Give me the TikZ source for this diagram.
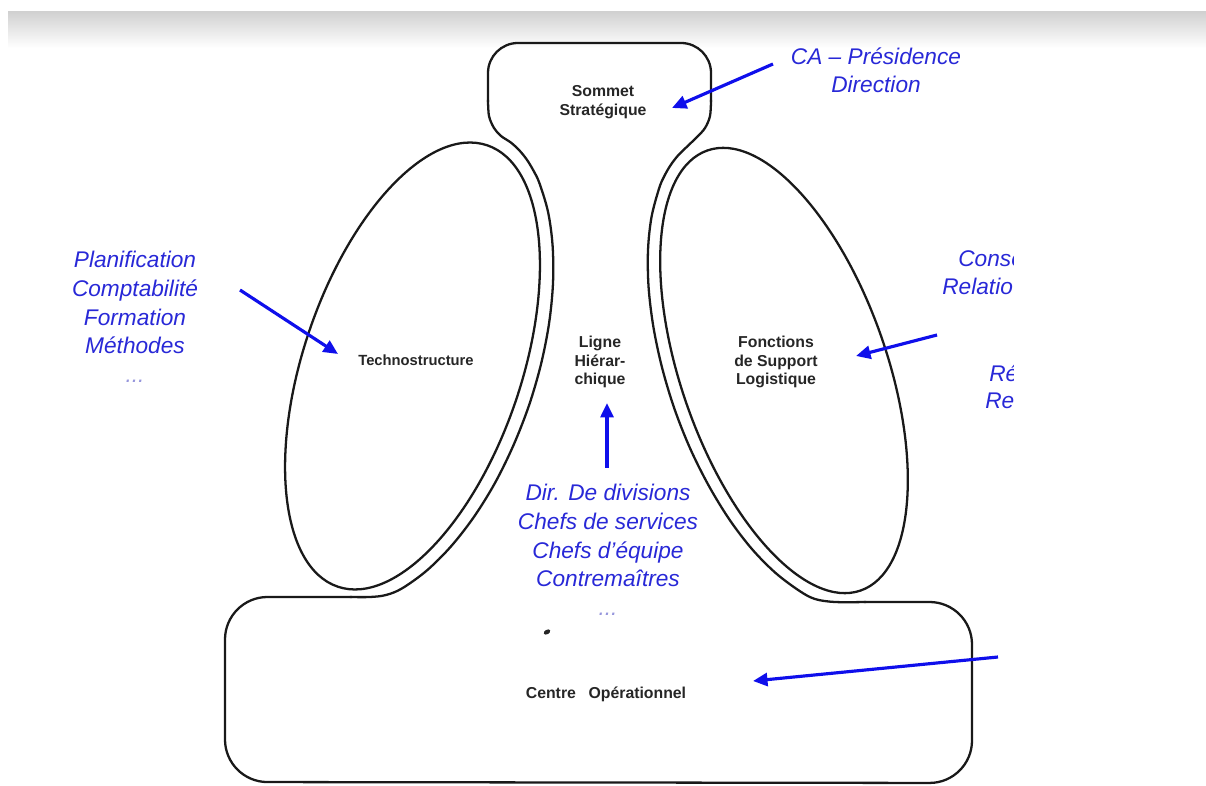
\documentclass[tikz,border=0pt]{standalone}
\usepackage{fontspec}
\setmainfont{Liberation Sans}
\usepackage{xcolor}
\usetikzlibrary{arrows.meta}
\definecolor{annotblue}{RGB}{40,40,215}
\definecolor{arrowblue}{RGB}{15,15,235}
\definecolor{dotblue}{RGB}{150,150,220}

\begin{document}
\begin{tikzpicture}[x=0.02cm, y=-0.02cm,
    outline/.style={line width=1.3pt, line join=round, line cap=round, draw=black!90},
    annot/.style={text=annotblue, font=\fontsize{12.9}{16.3}\selectfont\itshape, align=center, inner sep=0pt},
    part/.style={text=black!85, font=\fontsize{9}{10.5}\selectfont\bfseries, align=center, inner sep=0pt},
    bluearrow/.style={draw=arrowblue, line width=1.8pt, -{Triangle[length=0.29cm, width=0.26cm]}}]
  \useasboundingbox (0,0) rectangle (1206,786);
  % header band of the slide
  \shade[top color=black!18, bottom color=white] (8,12) rectangle (1206,48);

  % apex, middle line and operating core
  \draw[outline, rounded corners=0.6cm] (488,102) -- (488,43) -- (711,43) -- (711,102);
  \draw[outline] plot[smooth, tension=0.55] coordinates {(488,100) (489,116) (494,128) (501,136) (510.8,142.5) (519.2,150.2) (526.8,159.6) (533.5,170.7) (539.4,183.1) (548.1,212.2) (552.6,245.8) (553.0,283.1) (549.1,323.1) (541,364.2) (529,405.4) (513.4,445.4) (494.9,483.1) (473.8,517.1) (450.8,546.6) (426.7,570.6) (402.2,588.3) (386,595) (370,597) (350,597)};
  \draw[outline] plot[smooth, tension=0.55] coordinates {(711,100) (710,116) (705,128) (697,137) (685.3,148.3) (677.6,156) (670.5,165.3) (664.3,176.1) (659.1,188.4) (651.5,217.1) (648,250.3) (648.6,287.4) (653.4,327) (662.1,367.8) (674.4,408.7) (690.1,448.4) (708.8,485.8) (729.6,519.8) (752,549.1) (775.5,572.9) (799.3,590.8) (815,599) (835,602) (866,602)};
  \draw[outline, rounded corners=0.85cm] (352,597) -- (225,597) -- (225,782) -- (972,783) -- (972,602) -- (864,602);

  % staff and support
  \draw[outline, rotate around={-18.7:(412.5,366)}] (412.5,366) ellipse [x radius=109, y radius=233];
  \draw[outline, rotate around={19.2:(784,370.5)}] (784,370.5) ellipse [x radius=103, y radius=233];
  \fill[black!85, rotate around={30:(547,632)}] (547,632) ellipse [x radius=3.5, y radius=2.2];

  \node[part] (apex) at (603,102) {Sommet\\Stratégique};
  \node[part, font=\fontsize{8.4}{10.5}\selectfont\bfseries] (techno) at (416,360) {Technostructure};
  \node[part] (ligne) at (600,362) {Ligne\\Hiérar-\\chique};
  \node[part] (support) at (776,362) {Fonctions\\de Support\\Logistique};
  \node[part] (core) at (606,694) {Centre\hspace{0.8em}Opérationnel};

  % blue annotations
  \node[annot, anchor=north] (ca) at (876,47) {CA – Présidence\\Direction};
  \node[annot, anchor=north] (staff) at (135,251) {Planification\\Comptabilité\\Formation\\Méthodes\\\textcolor{dotblue}{...}};
  \node[annot, anchor=north] (managers) at (608,484) {Dir. De divisions\\Chefs de services\\Chefs d’équipe\\Contremaîtres\\\textcolor{dotblue}{...}};
  \begin{scope}
    \clip (0,0) rectangle (1013,786);
    \node[annot, anchor=north west] (conse) at (958,250) {Conse};
    \node[annot, anchor=north west] (relat) at (942,278) {Relatio};
    \node[annot, anchor=north west] (re1) at (989,364) {Ré};
    \node[annot, anchor=north west] (re2) at (985,393) {Re};
  \end{scope}

  \coordinate (caTail) at (773,64);
  \coordinate (caTip) at (672,108);
  \coordinate (staffTail) at (240,290);
  \coordinate (staffTip) at (338,354);
  \coordinate (supTail) at (937,335);
  \coordinate (supTip) at (856,356);
  \coordinate (lineTail) at (607,468);
  \coordinate (lineTip) at (607,403);
  \coordinate (coreTail) at (998,657);
  \coordinate (coreTip) at (753,681);

  \draw[bluearrow] (caTail) -- (caTip);
  \draw[bluearrow] (staffTail) -- (staffTip);
  \draw[bluearrow] (supTail) -- (supTip);
  \draw[bluearrow] (lineTail) -- (lineTip);
  \draw[bluearrow] (coreTail) -- (coreTip);
\end{tikzpicture}
\end{document}
